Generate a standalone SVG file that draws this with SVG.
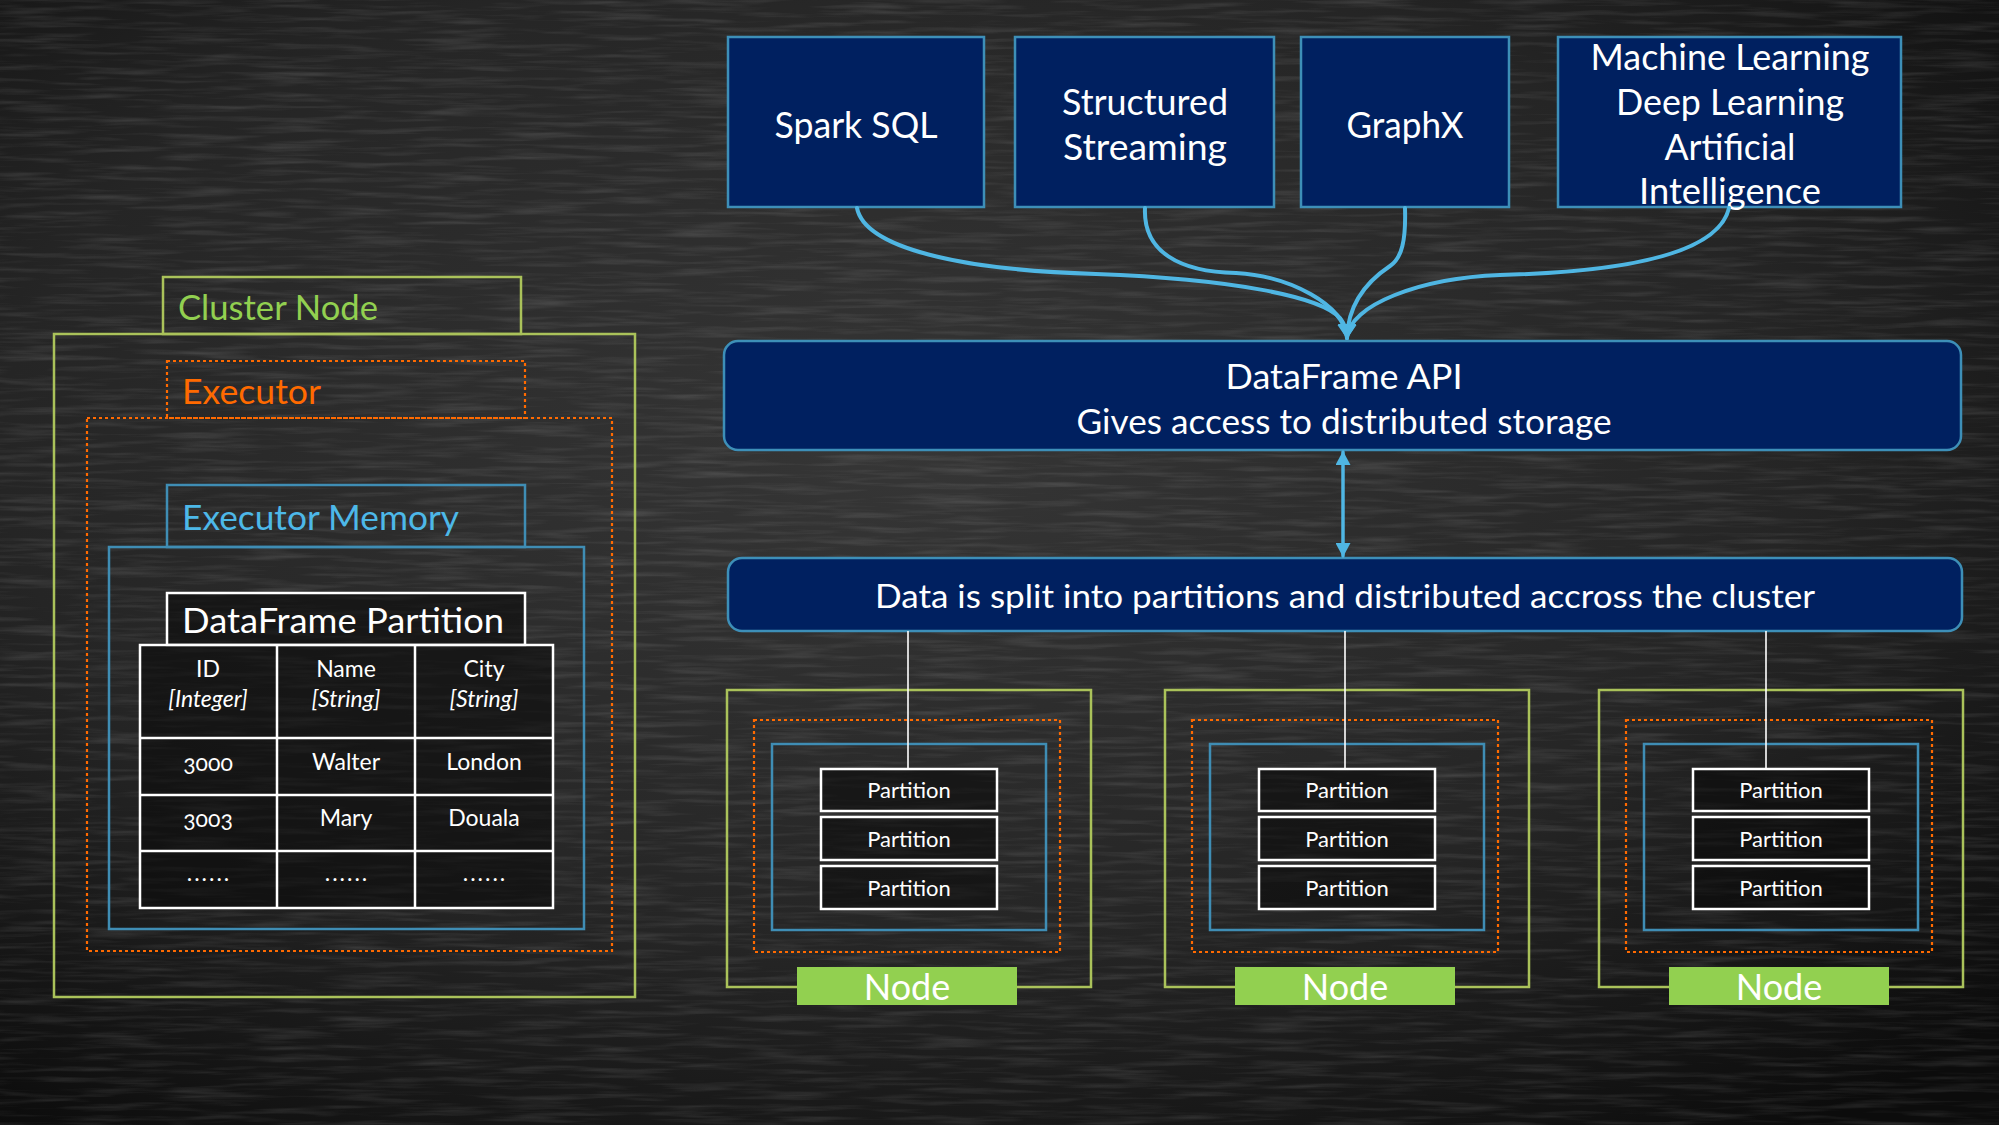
<svg xmlns="http://www.w3.org/2000/svg" width="1999" height="1125" viewBox="0 0 1999 1125">
<defs>
  <radialGradient id="vig" cx="0.45" cy="0.4" r="0.75">
    <stop offset="0" stop-color="#363636"/>
    <stop offset="0.6" stop-color="#252525"/>
    <stop offset="1" stop-color="#0c0c0c"/>
  </radialGradient>
  <filter id="chalk" x="0" y="0" width="100%" height="100%">
    <feTurbulence type="fractalNoise" baseFrequency="0.012 0.18" numOctaves="3" seed="7" result="n"/>
    <feColorMatrix in="n" type="matrix" values="0 0 0 0 1  0 0 0 0 1  0 0 0 0 1  0.9 0 0 0 -0.4"/>
  </filter>
  <marker id="arrow" viewBox="0 0 15 18" refX="14" refY="9" markerWidth="15" markerHeight="18" markerUnits="userSpaceOnUse" orient="auto">
    <path d="M0,0 L15,9 L0,18 Z" fill="#4fb6e3"/>
  </marker>
  <marker id="dbl" viewBox="0 0 14 15" refX="13" refY="7.5" markerWidth="14" markerHeight="15" markerUnits="userSpaceOnUse" orient="auto-start-reverse">
    <path d="M0,0 L14,7.5 L0,15 Z" fill="#4fb6e3"/>
  </marker>
</defs>
<style>
  text { font-family: Lato, "Open Sans", "Liberation Sans", sans-serif; fill: #ffffff; dominant-baseline: central; text-anchor: middle; }
  .blk { fill: #002060; stroke: #3d8fb8; stroke-width: 2.5; }
  .grn { fill: none; stroke: #aac25a; stroke-width: 2.5; }
  .org { fill: none; stroke: #ff6a00; stroke-width: 2.2; stroke-dasharray: 3 3; }
  .blu { fill: none; stroke: #3f8db4; stroke-width: 2.5; }
  .wht { fill: rgba(8,8,8,0.55); stroke: #ffffff; stroke-width: 2.5; }
  .top { font-size: 36px; }
  .big { font-size: 34px; }
  .lbl { font-size: 34px; text-anchor: start; }
  .cell { font-size: 23px; }
  .it { font-style: italic; }
  .dots { letter-spacing: 2px; }
  .part { font-size: 22px; }
  .nd { fill: #92d050; stroke: none; }
  .ndt { font-size: 36px; }
  .conn { fill: none; stroke: #4fb6e3; stroke-width: 4; stroke-linecap: round; }
  .line { fill: none; stroke: #ffffff; stroke-width: 1.6; }
</style>

<!-- background -->
<rect x="0" y="0" width="1999" height="1125" fill="url(#vig)"/>
<rect x="0" y="0" width="1999" height="1125" filter="url(#chalk)" opacity="0.28"/>

<!-- left: cluster node detail -->
<g id="cluster-node">
  <rect class="grn" x="163" y="277" width="358" height="57"/>
  <rect class="grn" x="54" y="334" width="581" height="663"/>
  <text class="lbl" x="178" y="306" style="fill:#92d050" textLength="200" lengthAdjust="spacingAndGlyphs">Cluster Node</text>
</g>
<g id="executor">
  <rect class="org" x="167" y="361" width="358" height="57"/>
  <rect class="org" x="87" y="418" width="525" height="533"/>
  <text class="lbl" x="182" y="390" style="fill:#ff6a00;font-size:35px" textLength="139" lengthAdjust="spacingAndGlyphs">Executor</text>
</g>
<g id="executor-memory">
  <rect class="blu" x="167" y="485" width="358" height="62"/>
  <rect class="blu" x="109" y="547" width="475" height="382"/>
  <text class="lbl" x="182" y="516" style="fill:#4db8e8" textLength="277" lengthAdjust="spacingAndGlyphs">Executor Memory</text>
</g>
<g id="dataframe-partition">
  <rect class="wht" x="167" y="593" width="358" height="52"/>
  <text class="lbl" x="182" y="619" textLength="322" lengthAdjust="spacingAndGlyphs">DataFrame Partition</text>
  <rect class="wht" x="140" y="645" width="413" height="263"/>
  <path class="line" style="stroke-width:2.5" d="M277,645 V908 M415,645 V908 M140,738 H553 M140,795 H553 M140,851 H553"/>
  <text class="cell" x="208" y="668">ID</text>
  <text class="cell it" x="208" y="698">[Integer]</text>
  <text class="cell" x="346" y="668">Name</text>
  <text class="cell it" x="346" y="698">[String]</text>
  <text class="cell" x="484" y="668">City</text>
  <text class="cell it" x="484" y="698">[String]</text>
  <text class="cell" x="208" y="762" style="font-variant-numeric:oldstyle-nums">3000</text>
  <text class="cell" x="346" y="761">Walter</text>
  <text class="cell" x="484" y="761">London</text>
  <text class="cell" x="208" y="818" style="font-variant-numeric:oldstyle-nums">3003</text>
  <text class="cell" x="346" y="817">Mary</text>
  <text class="cell" x="484" y="817">Douala</text>
  <text class="cell dots" x="209" y="872">......</text>
  <text class="cell dots" x="347" y="872">......</text>
  <text class="cell dots" x="485" y="872">......</text>
</g>

<!-- top library boxes -->
<g id="spark-sql">
  <rect class="blk" x="728" y="37" width="256" height="170"/>
  <text class="top" x="856" y="124" textLength="163" lengthAdjust="spacingAndGlyphs">Spark SQL</text>
</g>
<g id="structured-streaming">
  <rect class="blk" x="1015" y="37" width="259" height="170"/>
  <text class="top" x="1145" y="101" textLength="166" lengthAdjust="spacingAndGlyphs">Structured</text>
  <text class="top" x="1145" y="146" textLength="164" lengthAdjust="spacingAndGlyphs">Streaming</text>
</g>
<g id="graphx">
  <rect class="blk" x="1301" y="37" width="208" height="170"/>
  <text class="top" x="1405" y="124" textLength="117" lengthAdjust="spacingAndGlyphs">GraphX</text>
</g>
<g id="ml-dl-ai">
  <rect class="blk" x="1558" y="37" width="343" height="170"/>
  <text class="top" x="1730" y="56" textLength="279" lengthAdjust="spacingAndGlyphs">Machine Learning</text>
  <text class="top" x="1730" y="101" textLength="228" lengthAdjust="spacingAndGlyphs">Deep Learning</text>
  <text class="top" x="1730" y="146" textLength="131" lengthAdjust="spacingAndGlyphs">Artificial</text>
  <text class="top" x="1730" y="190" textLength="182" lengthAdjust="spacingAndGlyphs">Intelligence</text>
</g>

<!-- DataFrame API -->
<g id="dataframe-api">
  <rect class="blk" x="724" y="341" width="1237" height="109" rx="14"/>
  <text class="big" x="1344" y="375" textLength="237" lengthAdjust="spacingAndGlyphs">DataFrame API</text>
  <text class="big" x="1344" y="420" textLength="535" lengthAdjust="spacingAndGlyphs">Gives access to distributed storage</text>
</g>

<!-- split box -->
<g id="split">
  <rect class="blk" x="728" y="558" width="1234" height="73" rx="14"/>
  <text class="big" x="1345" y="595" style="font-size:33px" textLength="940" lengthAdjust="spacingAndGlyphs">Data is split into partitions and distributed accross the cluster</text>
</g>

<!-- bottom nodes -->
<g id="node-1">
  <rect class="grn" x="727" y="690" width="364" height="297"/>
  <rect class="org" x="754" y="720" width="306" height="232"/>
  <rect class="blu" x="772" y="744" width="274" height="186"/>
  <rect class="wht" x="821" y="769" width="176" height="42"/>
  <rect class="wht" x="821" y="817" width="176" height="43"/>
  <rect class="wht" x="821" y="866" width="176" height="43"/>
  <text class="part" x="909" y="789">Partition</text>
  <text class="part" x="909" y="838">Partition</text>
  <text class="part" x="909" y="887">Partition</text>
  <rect class="nd" x="797" y="967" width="220" height="38"/>
  <text class="ndt" x="907" y="986">Node</text>
</g>
<g id="node-2" transform="translate(438,0)">
  <rect class="grn" x="727" y="690" width="364" height="297"/>
  <rect class="org" x="754" y="720" width="306" height="232"/>
  <rect class="blu" x="772" y="744" width="274" height="186"/>
  <rect class="wht" x="821" y="769" width="176" height="42"/>
  <rect class="wht" x="821" y="817" width="176" height="43"/>
  <rect class="wht" x="821" y="866" width="176" height="43"/>
  <text class="part" x="909" y="789">Partition</text>
  <text class="part" x="909" y="838">Partition</text>
  <text class="part" x="909" y="887">Partition</text>
  <rect class="nd" x="797" y="967" width="220" height="38"/>
  <text class="ndt" x="907" y="986">Node</text>
</g>
<g id="node-3" transform="translate(872,0)">
  <rect class="grn" x="727" y="690" width="364" height="297"/>
  <rect class="org" x="754" y="720" width="306" height="232"/>
  <rect class="blu" x="772" y="744" width="274" height="186"/>
  <rect class="wht" x="821" y="769" width="176" height="42"/>
  <rect class="wht" x="821" y="817" width="176" height="43"/>
  <rect class="wht" x="821" y="866" width="176" height="43"/>
  <text class="part" x="909" y="789">Partition</text>
  <text class="part" x="909" y="838">Partition</text>
  <text class="part" x="909" y="887">Partition</text>
  <rect class="nd" x="797" y="967" width="220" height="38"/>
  <text class="ndt" x="907" y="986">Node</text>
</g>

<!-- connectors -->
<g id="connectors">
  <path class="conn" d="M857,208 C865,248 960,270 1096,274 C1230,279 1320,296 1340,318 C1346,326 1347,332 1347,338" marker-end="url(#arrow)"/>
  <path class="conn" d="M1145,208 C1143,252 1180,272 1236,273 C1290,276 1345,305 1347,338" marker-end="url(#arrow)"/>
  <path class="conn" d="M1405,208 C1406,240 1402,258 1390,266 C1372,278 1348,300 1347,338" marker-end="url(#arrow)"/>
  <path class="conn" d="M1729,208 C1718,255 1620,272 1500,275 C1420,278 1349,305 1347,338" marker-end="url(#arrow)"/>
  <path class="conn" style="stroke-width:3.5" d="M1343,452 V556" marker-start="url(#dbl)" marker-end="url(#dbl)"/>
  <path class="line" d="M908,631 V769"/>
  <path class="line" d="M1345,631 V769"/>
  <path class="line" d="M1766,631 V769"/>
</g>
</svg>
